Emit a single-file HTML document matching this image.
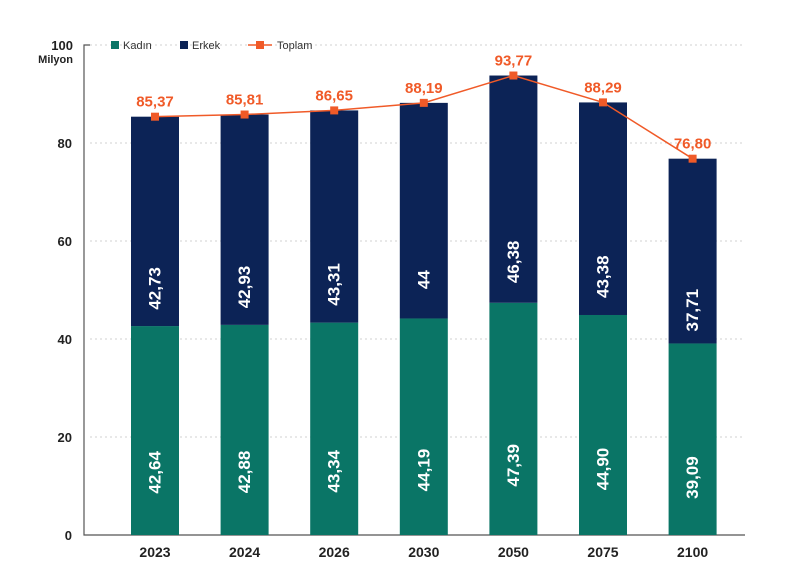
<!DOCTYPE html>
<html><head><meta charset="utf-8"><style>
body{margin:0;background:#fff;}
svg{display:block;font-family:"Liberation Sans",sans-serif;}
</style></head><body>
<svg id="c" width="800" height="586"></svg>
<script>
const categories=["2023","2024","2026","2030","2050","2075","2100"];
const kadin=[42.64,42.88,43.34,44.19,47.39,44.90,39.09];
const erkek=[42.73,42.93,43.31,44,46.38,43.38,37.71];
const toplam=[85.37,85.81,86.65,88.19,93.77,88.29,76.80];
const kadinLabels=["42,64","42,88","43,34","44,19","47,39","44,90","39,09"];
const erkekLabels=["42,73","42,93","43,31","44","46,38","43,38","37,71"];
const toplamLabels=["85,37","85,81","86,65","88,19","93,77","88,29","76,80"];
const yTicks=[0,20,40,60,80,100];
const NS="http://www.w3.org/2000/svg";
const svg=document.getElementById('c');
const y=v=>535-v*4.9;
const x=i=>155+i*89.6;
const bw=48;
function mk(t,a,txt){const e=document.createElementNS(NS,t);for(const k in a)e.setAttribute(k,a[k]);if(txt!=null)e.textContent=txt;svg.appendChild(e);return e;}
yTicks.forEach(v=>{
 if(v>0){const g=mk('line',{x1:90,x2:745,y1:y(v),y2:y(v),stroke:'#d0d0d0','stroke-dasharray':'2,3'});
 
 }
 const t=mk('text',{x:v===100?73:72,y:y(v)+5,'text-anchor':'end','font-size':13,'font-weight':'bold',fill:'#222'},String(v));
 
 
});
const yu=mk('text',{x:73,y:63,'text-anchor':'end','font-size':11,'font-weight':'bold',fill:'#222'},'Milyon');


const ax=mk('path',{d:'M90 45 H84 V535 H745',stroke:'#555','stroke-width':1.2,fill:'none'});


categories.forEach((c,i)=>{
 const cx=x(i);
 const k=mk('rect',{x:cx-bw/2,y:y(kadin[i]),width:bw,height:kadin[i]*4.9,fill:'#0a7566'});
 
 
 const e=mk('rect',{x:cx-bw/2,y:y(kadin[i]+erkek[i]),width:bw,height:erkek[i]*4.9,fill:'#0c2356'});
 
 
 const ky=y(kadin[i]*0.3), ey=y(kadin[i]+erkek[i]*0.18);
 const kl=mk('text',{x:cx,y:ky,transform:`rotate(-90 ${cx} ${ky})`,'text-anchor':'middle','dominant-baseline':'central','font-size':17,'font-weight':'bold',fill:'#fff'},kadinLabels[i]);
 
 
 const el=mk('text',{x:cx,y:ey,transform:`rotate(-90 ${cx} ${ey})`,'text-anchor':'middle','dominant-baseline':'central','font-size':17,'font-weight':'bold',fill:'#fff'},erkekLabels[i]);
 
 
 const xl=mk('text',{x:cx,y:557,'text-anchor':'middle','font-size':14,'font-weight':'bold',fill:'#222'},c);
 
 
});
const pl=mk('polyline',{points:toplam.map((v,i)=>x(i)+','+y(v)).join(' '),fill:'none',stroke:'#f05a28','stroke-width':1.5});


toplam.forEach((v,i)=>{
 const m=mk('rect',{x:x(i)-4,y:y(v)-4,width:8,height:8,fill:'#f05a28'});
 
 
 const t=mk('text',{x:x(i),y:y(v)-10,'text-anchor':'middle','font-size':15,'font-weight':'bold',fill:'#f05a28'},toplamLabels[i]);
 
 
});
const l1=mk('rect',{x:111,y:41,width:8,height:8,fill:'#0a7566'});


const l1t=mk('text',{x:123,y:49,'font-size':11,fill:'#333'},'Kadın');


const l2=mk('rect',{x:180,y:41,width:8,height:8,fill:'#0c2356'});


const l2t=mk('text',{x:192,y:49,'font-size':11,fill:'#333'},'Erkek');


const l3=mk('line',{x1:248,x2:272,y1:45,y2:45,stroke:'#f05a28','stroke-width':1.5});


const l3m=mk('rect',{x:256,y:41,width:8,height:8,fill:'#f05a28'});


const l3t=mk('text',{x:277,y:49,'font-size':11,fill:'#333'},'Toplam');


</script>
</body></html>
